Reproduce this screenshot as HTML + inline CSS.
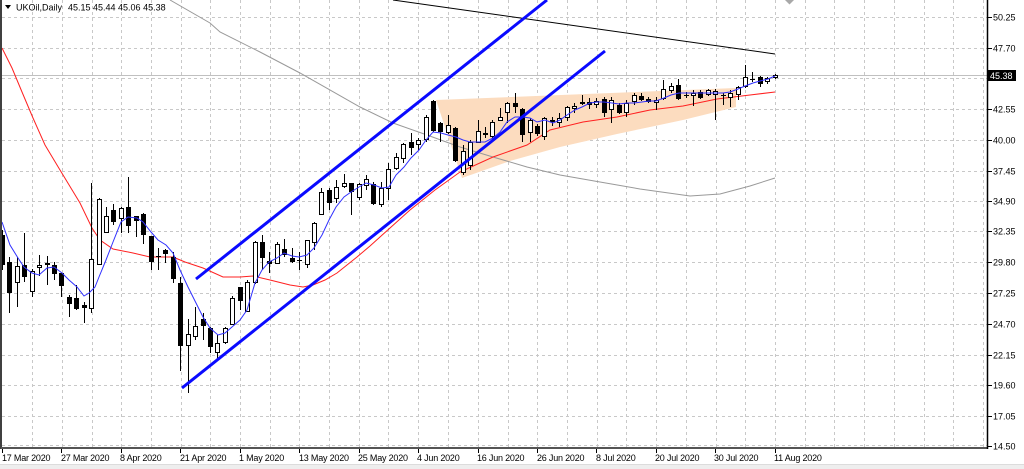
<!DOCTYPE html>
<html><head><meta charset="utf-8"><style>
html,body{margin:0;padding:0;background:#fff;width:1024px;height:469px;overflow:hidden}
svg{display:block}
text{font-family:"Liberation Sans",sans-serif;font-size:9px;fill:#000}
</style></head><body>
<svg width="1024" height="469" viewBox="0 0 1024 469" xmlns="http://www.w3.org/2000/svg">
<defs><clipPath id="c"><rect x="2" y="0" width="985" height="447"/></clipPath></defs>
<rect x="0" y="0" width="1024" height="469" fill="#fff"/>
<rect x="0" y="465" width="1024" height="4" fill="#eeeeee"/>
<line x1="0" y1="464.5" x2="1024" y2="464.5" stroke="#dcdcdc"/>
<g stroke="#c8c8c8" stroke-width="1" stroke-dasharray="3 3" fill="none">
<path d="M2 17.5H987M2 48.5H987M2 78.5H987M2 109.5H987M2 140.5H987M2 171.5H987M2 201.5H987M2 231.5H987M2 262.5H987M2 293.5H987M2 324.5H987M2 355.5H987M2 385.5H987M2 416.5H987M2 445.5H987"/>
<path d="M32.5 0V447M62.5 0V447M92.5 0V447M121.5 0V447M151.5 0V447M181.5 0V447M210.5 0V447M240.5 0V447M270.5 0V447M299.5 0V447M329.5 0V447M359.5 0V447M388.5 0V447M418.5 0V447M448.5 0V447M478.5 0V447M508.5 0V447M537.5 0V447M567.5 0V447M597.5 0V447M626.5 0V447M656.5 0V447M686.5 0V447M716.5 0V447M745.5 0V447M775.5 0V447M805.5 0V447M834.5 0V447M864.5 0V447M894.5 0V447M924.5 0V447M953.5 0V447M983.5 0V447"/>
</g>
<g clip-path="url(#c)">
<line x1="2" y1="75.5" x2="987" y2="75.5" stroke="#c0c0c0"/>
<polygon points="436,100 736,88 736,107 683,120 617,134 560,147 510,161 462,178" fill="#fcdcbf"/>
<polyline fill="none" stroke="#999" stroke-width="1" points="170,0 210,23 220,32 260,52 300,73 360,107 393,123 427,135 460,147 493,157 527,167 560,175 600,182 640,189 690,196 720,194 750,186 775,178"/>
<line x1="393" y1="0" x2="775" y2="54" stroke="#000" stroke-width="1"/>
<polyline fill="none" stroke="#ff2020" stroke-width="1" points="2,48 12,68 22,92 33,118 45,145 60,170 80,203 92,228 100,240 113,249 133,253 150,257 173,257 185,262 203,268 223,277 240,277 253,276 270,280 290,285 303,287 313,285 325,280 337,273 347,265 357,257 370,246 390,228 410,210 435,190 460,172 493,157 527,145 550,130 583,122 617,117 650,110 683,106 717,99 750,95 775,92"/>
<path fill="none" stroke="#000" stroke-width="1" d="M2.5 230V270M9.5 257V313M17.5 257V307M24.5 233V282M32.5 269V297M39.5 255V276M47.5 256V285M54.5 262V280M61.5 273V297M69.5 295V317M76.5 285V310M84.5 302V323M91.5 183V313M99.5 198V265M106.5 207V233M113.5 204V225M121.5 207V233M128.5 177V233M136.5 216V237M143.5 213V244M151.5 236V270M158.5 248V270M165.5 249V263M173.5 252V283M180.5 277V371M188.5 319V393M195.5 307V340M203.5 313V340M210.5 327V353M217.5 335V358M225.5 327V344M232.5 296V325M240.5 287V310M247.5 280V312M255.5 241V284M262.5 235V270M269.5 252V273M277.5 242V264M284.5 239V257M292.5 248V263M299.5 252V270M307.5 240V268M314.5 222V250M321.5 188V215M329.5 188V210M336.5 180V203M344.5 174V188M351.5 183V215M359.5 183V200M366.5 175V190M373.5 182V205M381.5 182V207M388.5 163V200M396.5 153V170M403.5 143V163M411.5 133V155M418.5 138V150M426.5 115V142M433.5 100V132M440.5 122V142M448.5 115V134M455.5 127V162M463.5 145V175M470.5 140V170M478.5 120V143M485.5 127V138M492.5 120V140M500.5 108V121M507.5 102V123M515.5 93V113M522.5 108V142M530.5 118V142M537.5 124V136M544.5 117V140M552.5 117V126M559.5 113V127M567.5 106V121M574.5 103V113M582.5 95V105M589.5 98V109M596.5 98V108M604.5 97V117M611.5 97V123M619.5 103V114M626.5 100V117M634.5 93V105M641.5 93V101M648.5 97V103M656.5 97V110M663.5 80V100M671.5 83V93M678.5 79V100M686.5 92V98M693.5 90V106M700.5 90V99M708.5 89V96M715.5 89V120M723.5 93V105M730.5 90V107M738.5 86V100M745.5 65V88M752.5 72V82M760.5 76V87M767.5 77V84M775.5 74V79"/>
<g fill="#000">
<rect x="0" y="235" width="5" height="30"/><rect x="7" y="262" width="5" height="31"/><rect x="22" y="265" width="5" height="12"/><rect x="45" y="263" width="5" height="2"/><rect x="52" y="265" width="5" height="9"/><rect x="59" y="273" width="5" height="13"/><rect x="67" y="297" width="5" height="7"/><rect x="74" y="298" width="5" height="11"/><rect x="82" y="305" width="5" height="3"/><rect x="111" y="210" width="5" height="12"/><rect x="126" y="207" width="5" height="19"/><rect x="134" y="216" width="5" height="5"/><rect x="141" y="214" width="5" height="21"/><rect x="149" y="236" width="5" height="26"/><rect x="156" y="256" width="5" height="1"/><rect x="163" y="250" width="5" height="4"/><rect x="171" y="257" width="5" height="22"/><rect x="178" y="283" width="5" height="63"/><rect x="201" y="319" width="5" height="7"/><rect x="208" y="328" width="5" height="19"/><rect x="238" y="287" width="5" height="14"/><rect x="260" y="242" width="5" height="16"/><rect x="267" y="261" width="5" height="3"/><rect x="282" y="249" width="5" height="6"/><rect x="290" y="258" width="5" height="4"/><rect x="297" y="260" width="5" height="1"/><rect x="327" y="190" width="5" height="13"/><rect x="349" y="183" width="5" height="9"/><rect x="371" y="184" width="5" height="20"/><rect x="409" y="142" width="5" height="6"/><rect x="431" y="101" width="5" height="30"/><rect x="438" y="123" width="5" height="9"/><rect x="453" y="128" width="5" height="33"/><rect x="513" y="103" width="5" height="4"/><rect x="520" y="109" width="5" height="26"/><rect x="535" y="126" width="5" height="8"/><rect x="587" y="102" width="5" height="3"/><rect x="602" y="99" width="5" height="14"/><rect x="617" y="105" width="5" height="8"/><rect x="639" y="96" width="5" height="4"/><rect x="646" y="99" width="5" height="3"/><rect x="676" y="85" width="5" height="14"/><rect x="684" y="95" width="5" height="1"/><rect x="698" y="92" width="5" height="6"/><rect x="721" y="95" width="5" height="1"/><rect x="750" y="79" width="5" height="1"/><rect x="758" y="77" width="5" height="7"/>
</g>
<g fill="#fff" stroke="#000" stroke-width="1">
<rect x="15.5" y="266.5" width="4" height="16"/><rect x="30.5" y="271.5" width="4" height="20"/><rect x="37.5" y="265.5" width="4" height="2"/><rect x="89.5" y="259.5" width="4" height="49"/><rect x="97.5" y="199.5" width="4" height="65"/><rect x="104.5" y="216.5" width="4" height="16"/><rect x="119.5" y="208.5" width="4" height="10"/><rect x="186.5" y="334.5" width="4" height="11"/><rect x="193.5" y="326.5" width="4" height="10"/><rect x="215.5" y="343.5" width="4" height="9"/><rect x="223.5" y="328.5" width="4" height="14"/><rect x="230.5" y="298.5" width="4" height="26"/><rect x="245.5" y="282.5" width="4" height="29"/><rect x="253.5" y="242.5" width="4" height="40"/><rect x="275.5" y="244.5" width="4" height="19"/><rect x="305.5" y="240.5" width="4" height="24"/><rect x="312.5" y="223.5" width="4" height="19"/><rect x="319.5" y="192.5" width="4" height="22"/><rect x="334.5" y="187.5" width="4" height="11"/><rect x="342.5" y="183.5" width="4" height="3"/><rect x="357.5" y="184.5" width="4" height="13"/><rect x="364.5" y="179.5" width="4" height="6"/><rect x="379.5" y="188.5" width="4" height="16"/><rect x="386.5" y="169.5" width="4" height="19"/><rect x="394.5" y="157.5" width="4" height="11"/><rect x="401.5" y="144.5" width="4" height="14"/><rect x="416.5" y="140.5" width="4" height="4"/><rect x="424.5" y="117.5" width="4" height="22"/><rect x="446.5" y="125.5" width="4" height="7"/><rect x="461.5" y="151.5" width="4" height="21"/><rect x="468.5" y="142.5" width="4" height="23"/><rect x="476.5" y="131.5" width="4" height="11"/><rect x="483.5" y="133.5" width="4" height="1"/><rect x="490.5" y="122.5" width="4" height="14"/><rect x="498.5" y="117.5" width="4" height="3"/><rect x="505.5" y="103.5" width="4" height="9"/><rect x="528.5" y="120.5" width="4" height="12"/><rect x="542.5" y="118.5" width="4" height="18"/><rect x="550.5" y="120.5" width="4" height="1"/><rect x="557.5" y="118.5" width="4" height="4"/><rect x="565.5" y="107.5" width="4" height="10"/><rect x="572.5" y="106.5" width="4" height="2"/><rect x="580.5" y="102.5" width="4" height="1"/><rect x="594.5" y="101.5" width="4" height="3"/><rect x="609.5" y="100.5" width="4" height="9"/><rect x="624.5" y="103.5" width="4" height="9"/><rect x="632.5" y="95.5" width="4" height="6"/><rect x="654.5" y="100.5" width="4" height="2"/><rect x="661.5" y="89.5" width="4" height="9"/><rect x="669.5" y="86.5" width="4" height="4"/><rect x="691.5" y="93.5" width="4" height="2"/><rect x="706.5" y="90.5" width="4" height="4"/><rect x="713.5" y="91.5" width="4" height="3"/><rect x="728.5" y="93.5" width="4" height="4"/><rect x="736.5" y="87.5" width="4" height="7"/><rect x="743.5" y="77.5" width="4" height="9"/><rect x="765.5" y="78.5" width="4" height="3"/><rect x="773.5" y="75.5" width="4" height="2"/>
</g>
<polyline fill="none" stroke="#3030ff" stroke-width="1" points="2,222 10,245 18,258 24,267 32,273 39,275 47,268 54,267 62,273 69,280 77,287 84,296 89,293 95,287 99,277 106,260 113,242 121,222 128,217 137,218 143,222 151,232 158,240 166,245 173,253 180,270 188,287 196,303 203,317 210,328 218,335 225,333 232,327 240,320 247,310 255,283 262,270 269,262 277,258 284,253 292,256 299,257 307,255 314,248 322,235 329,220 336,207 344,197 351,192 359,187 366,183 374,185 382,188 389,187 396,175 404,167 411,158 419,150 426,140 433,132 441,133 448,135 456,137 463,140 470,142 478,142 485,142 493,138 500,132 507,122 515,117 523,117 530,118 537,122 545,120 553,123 560,120 567,115 575,110 582,107 590,103 597,102 604,102 612,103 619,104 627,103 634,103 642,102 649,101 656,101 664,98 671,95 679,93 686,93 693,93 701,93 708,93 716,93 723,93 730,92 738,89 745,86 753,83 760,81 768,79 775,76"/>
<line x1="196" y1="279" x2="547" y2="0" stroke="#0a0aff" stroke-width="3"/>
<line x1="182" y1="388" x2="605" y2="51" stroke="#0a0aff" stroke-width="3"/>
<polygon points="785,0 794,0 789.5,4.5" fill="#a8a8a8"/>
</g>
<line x1="1" y1="0" x2="1" y2="449" stroke="#000" stroke-width="1.5"/>
<line x1="1" y1="448" x2="988" y2="448" stroke="#555" stroke-width="2"/>
<line x1="987.5" y1="0" x2="987.5" y2="449" stroke="#000" stroke-width="1.5"/>
<path stroke="#000" stroke-width="1" d="M988 17.5h4M988 48.5h4M988 109.5h4M988 140.5h4M988 171.5h4M988 201.5h4M988 231.5h4M988 262.5h4M988 293.5h4M988 324.5h4M988 355.5h4M988 385.5h4M988 416.5h4M988 446.5h4"/>
<path stroke="#000" stroke-width="1" d="M2.5 449v4M61.5 449v4M121.5 449v4M180.5 449v4M240.5 449v4M299.5 449v4M359.5 449v4M418.5 449v4M478.5 449v4M537.5 449v4M596.5 449v4M656.5 449v4M715.5 449v4M775.5 449v4"/>
<g>
<text x="993" y="20.5">50.25</text>
<text x="993" y="51.5">47.70</text>
<text x="993" y="112.5">42.55</text>
<text x="993" y="143.5">40.00</text>
<text x="993" y="174.5">37.45</text>
<text x="993" y="204.5">34.90</text>
<text x="993" y="234.5">32.35</text>
<text x="993" y="265.5">29.80</text>
<text x="993" y="296.5">27.25</text>
<text x="993" y="327.5">24.70</text>
<text x="993" y="358.5">22.15</text>
<text x="993" y="388.5">19.60</text>
<text x="993" y="419.5">17.05</text>
<text x="993" y="449.5">14.50</text>
</g>
<rect x="988" y="70" width="28" height="11" fill="#000"/>
<text x="990" y="79" style="fill:#fff">45.38</text>
<g letter-spacing="-0.2">
<text x="2" y="461">17 Mar 2020</text>
<text x="61" y="461">27 Mar 2020</text>
<text x="120" y="461">8 Apr 2020</text>
<text x="180" y="461">21 Apr 2020</text>
<text x="239" y="461">1 May 2020</text>
<text x="299" y="461">13 May 2020</text>
<text x="358" y="461">25 May 2020</text>
<text x="417" y="461">4 Jun 2020</text>
<text x="477" y="461">16 Jun 2020</text>
<text x="537" y="461">26 Jun 2020</text>
<text x="596" y="461">8 Jul 2020</text>
<text x="655" y="461">20 Jul 2020</text>
<text x="714" y="461">30 Jul 2020</text>
<text x="774" y="461">11 Aug 2020</text>
</g>
<polygon points="5,5 11,5 8,9" fill="#000"/>
<text x="16" y="10.5">UKOil,Daily</text>
<text x="68" y="10.5">45.15 45.44 45.06 45.38</text>
</svg>
</body></html>
